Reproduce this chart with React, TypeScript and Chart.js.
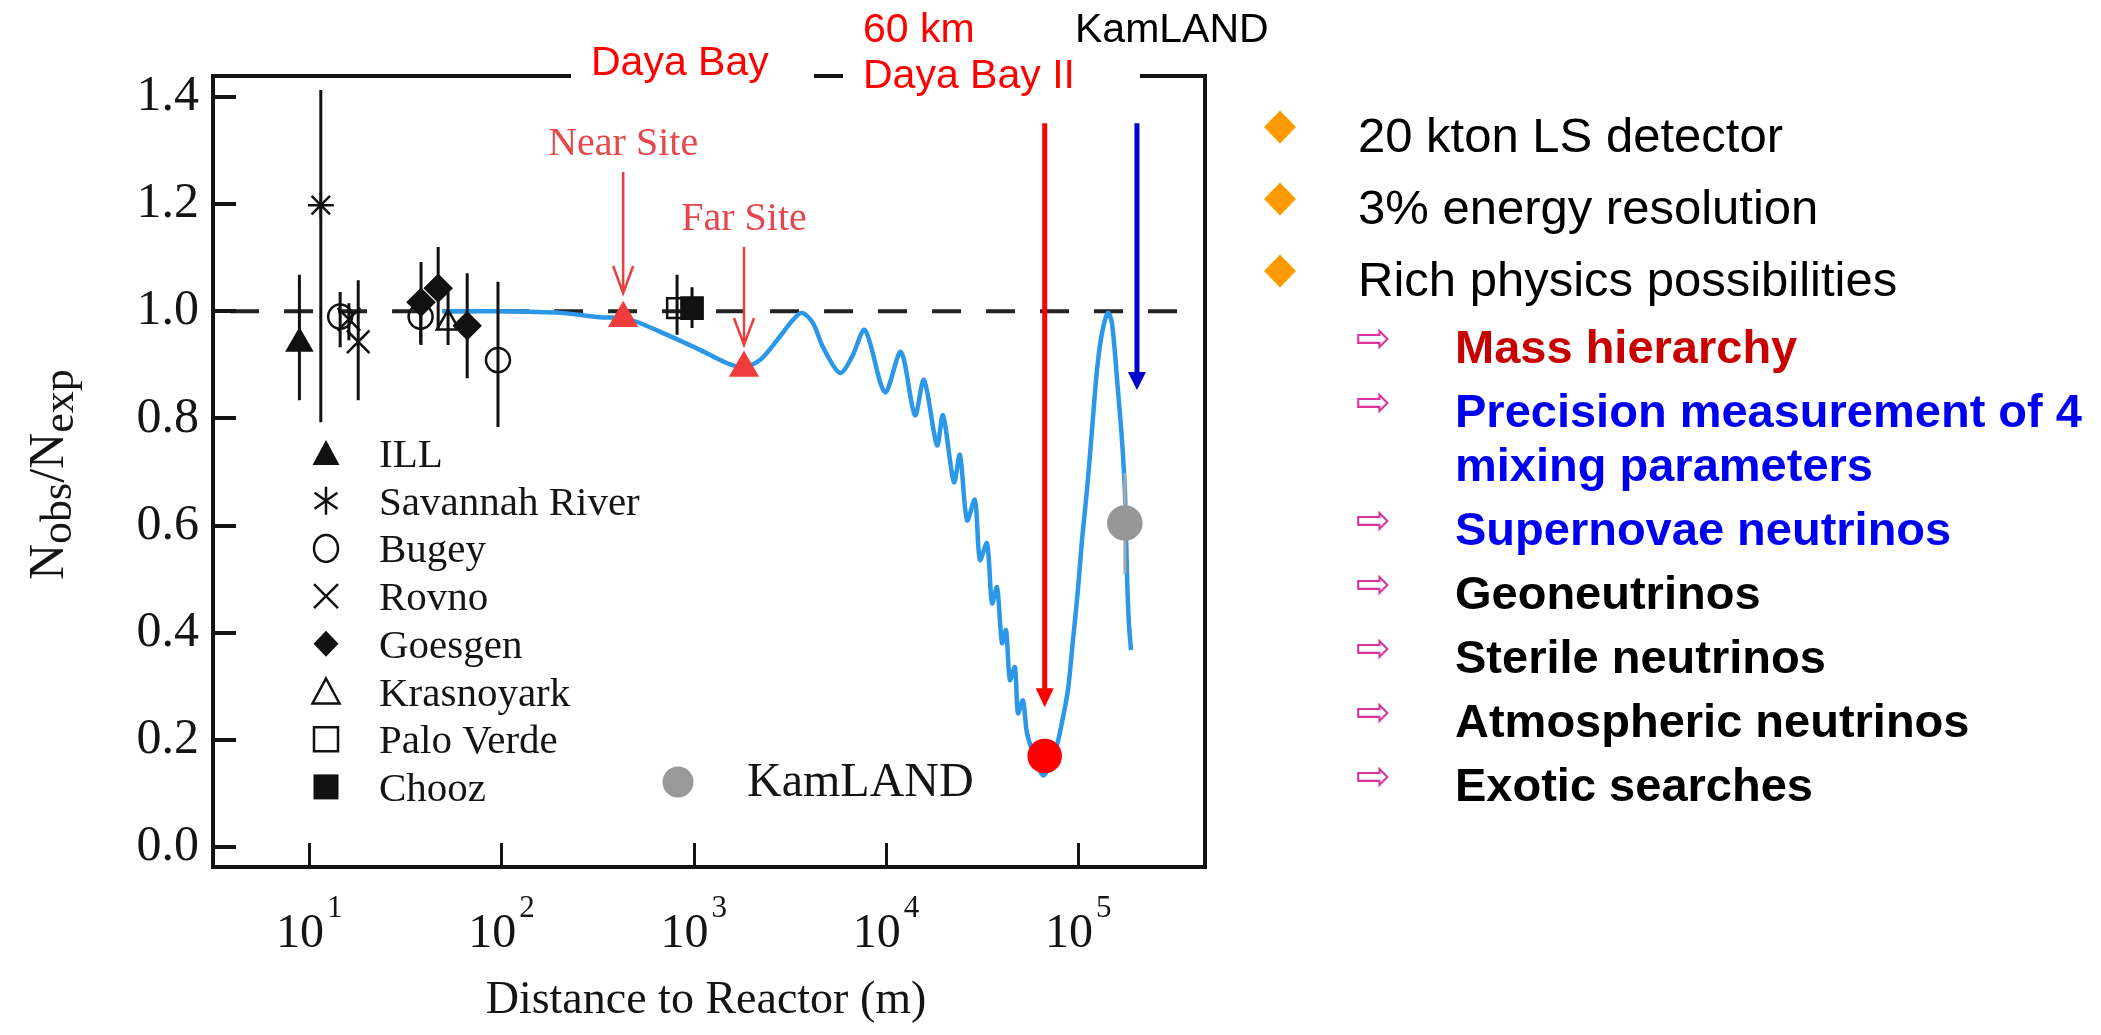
import React, { useEffect, useRef } from 'react';
import { Chart, registerables } from 'chart.js';

Chart.register(...registerables);

const CANVAS_W = 2101;
const CANVAS_H = 1035;
const SERIF = '"Liberation Serif", "Times New Roman", Times, serif';
const SANS = '"Liberation Sans", Arial, Helvetica, sans-serif';

// ---------------- data ----------------
// oscillation curve (distance in m, Nobs/Nexp)
const CURVE_DISTANCE_M = [49.2, 98.4, 202, 326, 430, 508, 728, 1079, 1493, 1807, 2213, 2716, 3289, 3664, 4178, 4710, 5768, 6668, 7780, 9886, 11967, 14158, 15776, 18450, 19815, 22594, 24266, 26424, 29040, 30832, 33574, 35645, 37844, 40179, 42170, 44157, 46881, 48641, 51642, 54200, 59566, 65615, 71285, 77625, 82414, 88512, 93972, 99770, 104713, 111173, 118032, 125314, 133045, 142889, 149968, 161065, 169044, 174985, 179473, 183654, 188365];
const CURVE_RATIO = [1.0, 1.0, 0.997, 0.989, 0.987, 0.98, 0.956, 0.928, 0.903, 0.896, 0.909, 0.946, 0.984, 0.997, 0.978, 0.933, 0.885, 0.915, 0.965, 0.849, 0.924, 0.806, 0.872, 0.75, 0.806, 0.681, 0.732, 0.61, 0.648, 0.536, 0.567, 0.455, 0.485, 0.381, 0.405, 0.312, 0.336, 0.25, 0.274, 0.213, 0.166, 0.134, 0.153, 0.19, 0.233, 0.293, 0.386, 0.48, 0.573, 0.666, 0.778, 0.89, 0.959, 0.997, 0.978, 0.853, 0.76, 0.666, 0.511, 0.418, 0.368];

// experiments: [distance m, ratio, error low, error high]
const ILL_DATA = [[8.9, 0.94, 0.834, 1.068]];
const SAVANNAH_RIVER_DATA = [[11.5, 1.198, 0.793, 1.413]];
const BUGEY_DATA = [[14.5, 0.99, 0.933, 1.036], [38, 0.99, 0.94, 1.04], [96, 0.909, 0.784, 1.055]];
const ROVNO_DATA = [[16.1, 0.985, 0.946, 1.015], [18.0, 0.943, 0.834, 1.058]];
const GOESGEN_DATA = [[38.2, 1.017, 0.937, 1.092], [46.9, 1.043, 0.965, 1.12], [66.4, 0.973, 0.875, 1.071]];
const KRASNOYARK_DATA = [[52.8, 0.978, 0.937, 1.036]];
const PALO_VERDE_DATA = [[820, 1.006, 0.956, 1.068]];
const CHOOZ_DATA = [[981, 1.006, 0.969, 1.045]];
const KAMLAND_DATA = [[175000, 0.605, 0.51, 0.698]];
// Daya Bay near / far sites: [distance m, ratio]
const DAYA_BAY_DATA = [[430, 0.987], [1828, 0.894]];
const DAYA_BAY_II_DATA = [[67000, 0.17]];

// annotation arrows
const ARROW_DISTANCE_M = [430, 1828, 67000, 202300];
const ARROW_FROM = [1.26, 1.12, 1.351, 1.351];
const ARROW_TO = [1.034, 0.937, 0.261, 0.853];
const ARROW_LABELS = ['Near Site', 'Far Site', '', ''];

// unity reference line
const UNITY_DISTANCE_M = [3.4, 351000];
const UNITY_RATIO = [1, 1];

// axes
const X_MIN = 3.162;
const X_MAX = 457000;
const Y_MIN = -0.037;
const Y_MAX = 1.439;
const X_TICKS = [10, 100, 1000, 10000, 100000];
const X_TICK_EXPONENTS = ['1', '2', '3', '4', '5'];
const Y_TICKS = [0, 0.2, 0.4, 0.6, 0.8, 1.0, 1.2, 1.4];
const X_TITLE = 'Distance to Reactor (m)';

const LEGEND_LABELS = ['ILL', 'Savannah River', 'Bugey', 'Rovno', 'Goesgen', 'Krasnoyark', 'Palo Verde', 'Chooz'];
const LEGEND_SYMBOLS = ['triFilled', 'asterisk', 'circleOpen', 'cross', 'diamond', 'triOpen', 'squareOpen', 'squareFilled'];

const BULLETS = ['20 kton LS detector', '3% energy resolution', 'Rich physics possibilities'];
const SUB_BULLETS = [
  ['Mass hierarchy'],
  ['Precision measurement of 4', 'mixing parameters'],
  ['Supernovae neutrinos'],
  ['Geoneutrinos'],
  ['Sterile neutrinos'],
  ['Atmospheric neutrinos'],
  ['Exotic searches'],
];
const SUB_BULLET_COLORS = ['#c80000', '#0000f0', '#0000f0', '#000000', '#000000', '#000000', '#000000'];

// ---------------- helpers ----------------
const toXY = (rows: number[][]) => rows.map((r) => ({ x: r[0], y: r[1] }));
const errorSegments = (groups: number[][][]) => {
  const pts: { x: number; y: number | null }[] = [];
  groups.forEach((g) =>
    g.forEach((r) => {
      pts.push({ x: r[0], y: r[2] }, { x: r[0], y: r[3] }, { x: r[0], y: null });
    })
  );
  return pts;
};

function drawLegendSymbol(ctx: CanvasRenderingContext2D, kind: string, cx: number, cy: number) {
  ctx.save();
  ctx.strokeStyle = '#111';
  ctx.fillStyle = '#111';
  ctx.lineWidth = 2.5;
  ctx.beginPath();
  switch (kind) {
    case 'triFilled':
    case 'triOpen':
      ctx.moveTo(cx, cy - 13);
      ctx.lineTo(cx + 13.5, cy + 12);
      ctx.lineTo(cx - 13.5, cy + 12);
      ctx.closePath();
      if (kind === 'triFilled') ctx.fill();
      else ctx.stroke();
      break;
    case 'asterisk':
      [90, 35, 145].forEach((deg) => {
        const a = (deg * Math.PI) / 180;
        ctx.moveTo(cx - Math.cos(a) * 14, cy - Math.sin(a) * 14);
        ctx.lineTo(cx + Math.cos(a) * 14, cy + Math.sin(a) * 14);
      });
      ctx.stroke();
      break;
    case 'circleOpen':
      ctx.ellipse(cx, cy, 12, 13.5, 0, 0, Math.PI * 2);
      ctx.stroke();
      break;
    case 'cross':
      ctx.moveTo(cx - 12, cy - 12);
      ctx.lineTo(cx + 12, cy + 12);
      ctx.moveTo(cx + 12, cy - 12);
      ctx.lineTo(cx - 12, cy + 12);
      ctx.stroke();
      break;
    case 'diamond':
      ctx.moveTo(cx, cy - 13);
      ctx.lineTo(cx + 12.5, cy);
      ctx.lineTo(cx, cy + 13);
      ctx.lineTo(cx - 12.5, cy);
      ctx.closePath();
      ctx.fill();
      break;
    case 'squareOpen':
      ctx.rect(cx - 12, cy - 12, 24, 24);
      ctx.stroke();
      break;
    case 'squareFilled':
      ctx.rect(cx - 12.5, cy - 12.5, 25, 25);
      ctx.fill();
      break;
  }
  ctx.restore();
}

const overlayPlugin = {
  id: 'overlay',
  afterDatasetsDraw(chart: any) {
    const { ctx } = chart;
    const xs = chart.scales.x;
    const ys = chart.scales.y;
    ctx.save();
    ARROW_DISTANCE_M.forEach((d, i) => {
      const px = xs.getPixelForValue(d);
      const y0 = ys.getPixelForValue(ARROW_FROM[i]);
      const y1 = ys.getPixelForValue(ARROW_TO[i]);
      if (i < 2) {
        ctx.strokeStyle = '#e8403f';
        ctx.lineWidth = 2.5;
        ctx.beginPath();
        ctx.moveTo(px, y0);
        ctx.lineTo(px, y1);
        ctx.moveTo(px - 10, y1 - 27);
        ctx.lineTo(px, y1);
        ctx.lineTo(px + 10, y1 - 27);
        ctx.stroke();
        ctx.fillStyle = '#e6474c';
        ctx.font = `40px ${SERIF}`;
        ctx.textAlign = 'center';
        ctx.textBaseline = 'alphabetic';
        ctx.fillText(ARROW_LABELS[i], px, y0 - 17);
      } else {
        const color = i === 2 ? '#ff0000' : '#0000cc';
        const head = i === 2 ? 19 : 18;
        ctx.strokeStyle = color;
        ctx.fillStyle = color;
        ctx.lineWidth = 5;
        ctx.beginPath();
        ctx.moveTo(px, y0);
        ctx.lineTo(px, y1 - head + 1);
        ctx.stroke();
        ctx.beginPath();
        ctx.moveTo(px - 9, y1 - head);
        ctx.lineTo(px + 9, y1 - head);
        ctx.lineTo(px, y1);
        ctx.closePath();
        ctx.fill();
      }
    });
    ctx.restore();
  },
  afterDraw(chart: any) {
    const { ctx, chartArea: area } = chart;
    const xs = chart.scales.x;
    const ys = chart.scales.y;
    ctx.save();

    // frame: top (broken by labels) and right
    ctx.strokeStyle = '#141414';
    ctx.lineWidth = 4;
    ctx.beginPath();
    ctx.moveTo(area.left - 2, area.top);
    ctx.lineTo(571, area.top);
    ctx.moveTo(814, area.top);
    ctx.lineTo(843, area.top);
    ctx.moveTo(1140, area.top);
    ctx.lineTo(area.right, area.top);
    ctx.moveTo(area.right, area.top - 2);
    ctx.lineTo(area.right, area.bottom + 2);
    ctx.stroke();

    // inward ticks
    ctx.beginPath();
    Y_TICKS.forEach((v) => {
      const py = Math.round(ys.getPixelForValue(v));
      ctx.moveTo(area.left, py);
      ctx.lineTo(area.left + 23, py);
    });
    ctx.lineWidth = 4;
    ctx.stroke();
    ctx.beginPath();
    X_TICKS.forEach((v) => {
      const px = Math.round(xs.getPixelForValue(v)) + 0.5;
      ctx.moveTo(px, area.bottom);
      ctx.lineTo(px, area.bottom - 24);
    });
    ctx.lineWidth = 3;
    ctx.stroke();

    // x tick labels 10^n
    ctx.fillStyle = '#141414';
    ctx.textAlign = 'left';
    ctx.textBaseline = 'alphabetic';
    X_TICKS.forEach((v, i) => {
      const px = xs.getPixelForValue(v);
      ctx.font = `48px ${SERIF}`;
      const wBase = ctx.measureText('10').width;
      ctx.font = `31px ${SERIF}`;
      const wExp = ctx.measureText(X_TICK_EXPONENTS[i]).width;
      const start = px - (wBase + 3 + wExp) / 2;
      ctx.font = `48px ${SERIF}`;
      ctx.fillText('10', start, 947);
      ctx.font = `31px ${SERIF}`;
      ctx.fillText(X_TICK_EXPONENTS[i], start + wBase + 3, 917);
    });

    // x title
    ctx.font = `46px ${SERIF}`;
    ctx.textAlign = 'center';
    ctx.fillText(X_TITLE, 706, 1013);

    // y title N_obs / N_exp (rotated)
    ctx.save();
    ctx.translate(63, 580);
    ctx.rotate(-Math.PI / 2);
    ctx.textAlign = 'left';
    let cx = 0;
    const parts: [string, number, number][] = [
      ['N', 50, 0],
      ['obs', 44, 8],
      ['/N', 50, 0],
      ['exp', 44, 10],
    ];
    parts.forEach(([t, size, dy]) => {
      ctx.font = `${size}px ${SERIF}`;
      ctx.fillText(t, cx, dy);
      cx += ctx.measureText(t).width;
    });
    ctx.restore();

    // legend
    ctx.textAlign = 'left';
    ctx.font = `41px ${SERIF}`;
    LEGEND_LABELS.forEach((label, i) => {
      const cy = 453 + i * 47.7;
      drawLegendSymbol(ctx, LEGEND_SYMBOLS[i], 326, cy);
      ctx.fillStyle = '#141414';
      ctx.fillText(label, 379, cy + 14);
    });
    ctx.fillStyle = '#999999';
    ctx.beginPath();
    ctx.arc(678, 782, 15.5, 0, Math.PI * 2);
    ctx.fill();
    ctx.fillStyle = '#141414';
    ctx.font = `48px ${SERIF}`;
    ctx.fillText('KamLAND', 747, 796);

    // top labels
    ctx.font = `41px ${SANS}`;
    ctx.fillStyle = '#ff0000';
    ctx.fillText('Daya Bay', 591, 75);
    ctx.fillText('60 km', 863, 42);
    ctx.fillText('Daya Bay II', 863, 88);
    ctx.fillStyle = '#000000';
    ctx.fillText('KamLAND', 1075, 42);

    // right-hand bullet list
    BULLETS.forEach((t, i) => {
      const base = 152 + i * 72;
      const cyD = base - 25;
      ctx.fillStyle = '#ff9900';
      ctx.beginPath();
      ctx.moveTo(1280, cyD - 16.5);
      ctx.lineTo(1296, cyD);
      ctx.lineTo(1280, cyD + 16.5);
      ctx.lineTo(1264, cyD);
      ctx.closePath();
      ctx.fill();
      ctx.fillStyle = '#000000';
      ctx.font = `49px ${SANS}`;
      ctx.textAlign = 'left';
      ctx.fillText(t, 1358, base);
    });
    let base = 363;
    SUB_BULLETS.forEach((lines, i) => {
      ctx.fillStyle = '#d9349e';
      ctx.font = `42px "DejaVu Sans", ${SANS}`;
      ctx.textAlign = 'center';
      ctx.textBaseline = 'middle';
      ctx.fillText('\u21E8', 1373, base - 22);
      ctx.textBaseline = 'alphabetic';
      ctx.textAlign = 'left';
      ctx.fillStyle = SUB_BULLET_COLORS[i];
      ctx.font = `bold 47px ${SANS}`;
      lines.forEach((ln, j) => {
        ctx.fillText(ln, 1455, base + j * 54);
      });
      base += 64 + (lines.length - 1) * 54;
    });

    ctx.restore();
  },
};

export default function App() {
  const ref = useRef<HTMLCanvasElement>(null);

  useEffect(() => {
    document.body.style.margin = '0';
    document.body.style.overflow = 'hidden';
    const canvas = ref.current;
    if (!canvas) return;

    const curve = CURVE_DISTANCE_M.map((d, i) => ({ x: d, y: CURVE_RATIO[i] }));
    const unity = UNITY_DISTANCE_M.map((d, i) => ({ x: d, y: UNITY_RATIO[i] }));
    const errors = errorSegments([ILL_DATA, SAVANNAH_RIVER_DATA, BUGEY_DATA, ROVNO_DATA, GOESGEN_DATA, KRASNOYARK_DATA, PALO_VERDE_DATA, CHOOZ_DATA]);
    const kamErrors = errorSegments([KAMLAND_DATA]);

    const marker = (data: any[], style: string, radius: number, filled: boolean, color = '#111', extra: any = {}) => ({
      data,
      pointStyle: style,
      pointRadius: radius,
      pointBackgroundColor: filled ? color : 'rgba(0,0,0,0)',
      pointBorderColor: color,
      pointBorderWidth: 2.5,
      showLine: false,
      order: 1,
      ...extra,
    });

    const chart = new Chart(canvas, {
      type: 'scatter',
      data: {
        datasets: [
          marker(toXY(DAYA_BAY_II_DATA), 'circle', 16, true, '#ff0000', { order: 0 }),
          marker(toXY(DAYA_BAY_DATA), 'triangle', 15, true, '#f03c3c', { order: 0 }),
          marker(toXY(KAMLAND_DATA), 'circle', 16.5, true, '#979797', { order: 0 }),
          marker(toXY(ILL_DATA), 'triangle', 14, true),
          marker(toXY(SAVANNAH_RIVER_DATA), 'star', 13, false),
          marker(toXY(BUGEY_DATA), 'circle', 12, false),
          marker(toXY(ROVNO_DATA), 'crossRot', 16, false),
          marker(toXY(GOESGEN_DATA), 'rectRot', 13, true),
          marker(toXY(KRASNOYARK_DATA), 'triangle', 13, false),
          marker(toXY(PALO_VERDE_DATA), 'rect', 14, false),
          marker(toXY(CHOOZ_DATA), 'rect', 15, true),
          {
            data: errors,
            showLine: true,
            spanGaps: false,
            borderColor: '#111',
            borderWidth: 3,
            pointRadius: 0,
            order: 2,
          },
          {
            data: kamErrors,
            showLine: true,
            spanGaps: false,
            borderColor: '#a8a8a8',
            borderWidth: 3,
            pointRadius: 0,
            order: 2,
          },
          {
            data: curve,
            showLine: true,
            borderColor: '#2a97e8',
            borderWidth: 4.5,
            pointRadius: 0,
            tension: 0.3,
            order: 3,
          },
          {
            data: unity,
            showLine: true,
            borderColor: '#222',
            borderWidth: 4,
            borderDash: [29, 25],
            borderDashOffset: 43,
            pointRadius: 0,
            order: 4,
          },
        ] as any,
      },
      options: {
        animation: false,
        responsive: false,
        devicePixelRatio: 1,
        events: [],
        layout: { padding: { left: 0, top: 76, right: CANVAS_W - 1205, bottom: 0 } },
        plugins: { legend: { display: false }, tooltip: { enabled: false } },
        scales: {
          x: {
            type: 'logarithmic',
            min: X_MIN,
            max: X_MAX,
            afterFit: (s: any) => {
              s.height = CANVAS_H - 867;
            },
            ticks: { display: false },
            grid: { display: false, drawTicks: false },
            border: { display: true, width: 4, color: '#141414' },
          },
          y: {
            type: 'linear',
            min: Y_MIN,
            max: Y_MAX,
            afterFit: (s: any) => {
              s.width = 213;
            },
            afterBuildTicks: (s: any) => {
              s.ticks = Y_TICKS.map((v) => ({ value: v }));
            },
            ticks: {
              display: true,
              color: '#141414',
              padding: 14,
              font: { family: SERIF, size: 50 },
              callback: (v: any) => Number(v).toFixed(1),
            },
            grid: { display: false, drawTicks: false },
            border: { display: true, width: 4, color: '#141414' },
          },
        },
      } as any,
      plugins: [overlayPlugin],
    });

    return () => chart.destroy();
  }, []);

  return (
    <div style={{ position: 'absolute', left: 0, top: 0, width: CANVAS_W, height: CANVAS_H, background: '#ffffff' }}>
      <canvas ref={ref} width={CANVAS_W} height={CANVAS_H} style={{ width: CANVAS_W, height: CANVAS_H, display: 'block' }} />
    </div>
  );
}
